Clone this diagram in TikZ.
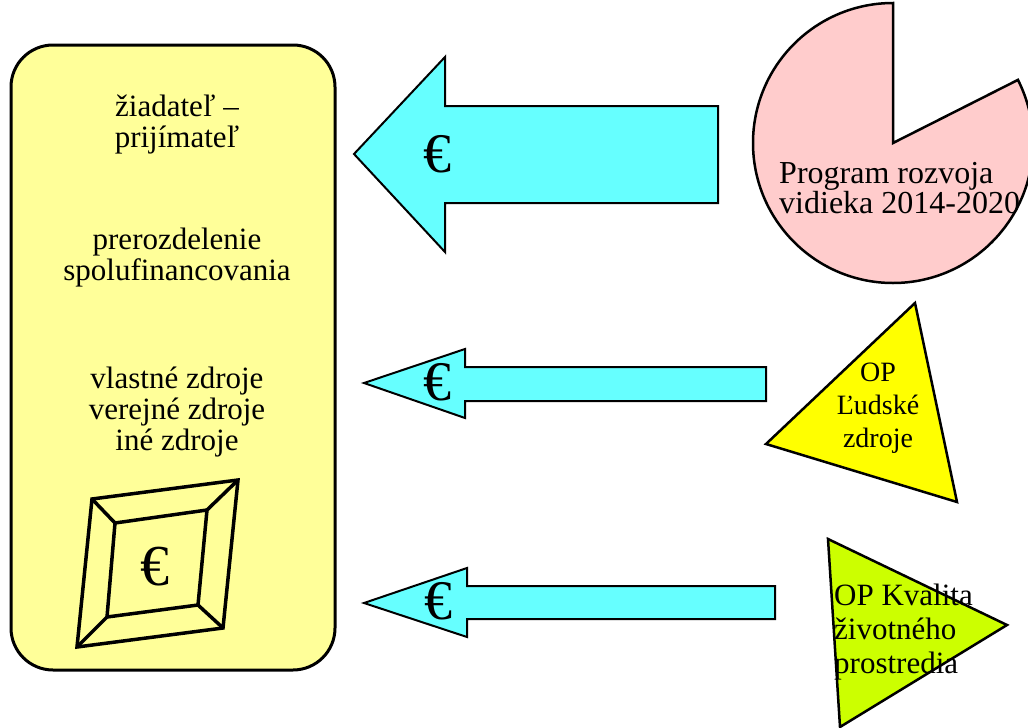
\documentclass[tikz,border=0pt]{standalone}
\usepackage{fontspec}
\setmainfont{Liberation Serif}
\usepackage{tikz}
\usetikzlibrary{positioning}
\definecolor{boxyellow}{RGB}{255,255,153}
\definecolor{arrowcyan}{RGB}{102,255,255}
\definecolor{piepink}{RGB}{255,204,204}
\definecolor{triyellow}{RGB}{255,255,0}
\definecolor{trigreen}{RGB}{204,255,0}

\begin{document}
\begin{tikzpicture}[x=1pt, y=-1pt, line join=miter]
\useasboundingbox (0,0) rectangle (1028,728);
\tikzstyle{every node} = [inner sep=0pt, align=center, anchor=base, font=\fontsize{31}{31}\selectfont]
\tikzstyle{money} = [anchor=center, font=\fontsize{56}{56}\selectfont]
\tikzstyle{flow} = [fill=arrowcyan, draw=black, line width=2pt]
% beneficiary box
\draw[line width=3pt, fill=boxyellow, rounded corners=42pt] (11,45) rectangle (335,670);
\node (zia) at (177,147) {žiadateľ –\\prijímateľ};
\node (prer) at (177,280) {prerozdelenie\\spolufinancovania};
\node (zdr) at (177,450) {vlastné zdroje\\verejné zdroje\\iné zdroje};
% safe with euro
\coordinate (o1) at (92,499);
\coordinate (o2) at (238,480);
\coordinate (o3) at (223,628);
\coordinate (o4) at (77,647);
\coordinate (i1) at (115,523);
\coordinate (i2) at (207,510);
\coordinate (i3) at (198,605);
\coordinate (i4) at (107,617);
\draw[line width=3.5pt] (o1) -- (o2) -- (o3) -- (o4) -- cycle
	(i1) -- (i2) -- (i3) -- (i4) -- cycle;
\foreach \k in {1,...,4}
	\draw[line width=3.5pt] (o\k) -- (i\k);
\node[money, font=\fontsize{58}{58}\selectfont] (eu4) at (155,567) {€};
% money flows
\draw[flow] (354,154) -- (445,57) -- (445,106) -- (718,106) -- (718,203) -- (445,203) -- (445,252) -- cycle;
\draw[flow] (364,383) -- (465,349) -- (465,367) -- (766,367) -- (766,401) -- (465,401) -- (465,418) -- cycle;
\draw[flow] (364,603) -- (467,568) -- (467,586) -- (775,586) -- (775,619) -- (467,619) -- (467,637) -- cycle;
\node[money] (eu1) at (437,154) {€};
\node[money] (eu2) at (437,382) {€};
\node[money] (eu3) at (438,601) {€};
% sources
\draw[fill=piepink, line width=2.5pt] (893,143) -- (893,3) arc[start angle=-90, end angle=-386.8, radius=140] -- cycle;
\node[align=left, anchor=base west, font=\fontsize{32}{30}\selectfont] (prv) at (779,213) {Program rozvoja\\vidieka 2014-2020};
\draw[fill=triyellow, line width=2.5pt] (915,303) -- (766,444) -- (957,502) -- cycle;
\node[font=\fontsize{28}{33}\selectfont] (ludske) at (878,447) {OP\\Ľudské\\zdroje};
\draw[fill=trigreen, line width=2.5pt] (828,539) -- (1007,625) -- (840,727) -- cycle;
\node[align=left, anchor=base west, font=\fontsize{31}{34}\selectfont] (kvalita) at (834,673) {OP Kvalita\\životného\\prostredia};
\end{tikzpicture}
\end{document}
